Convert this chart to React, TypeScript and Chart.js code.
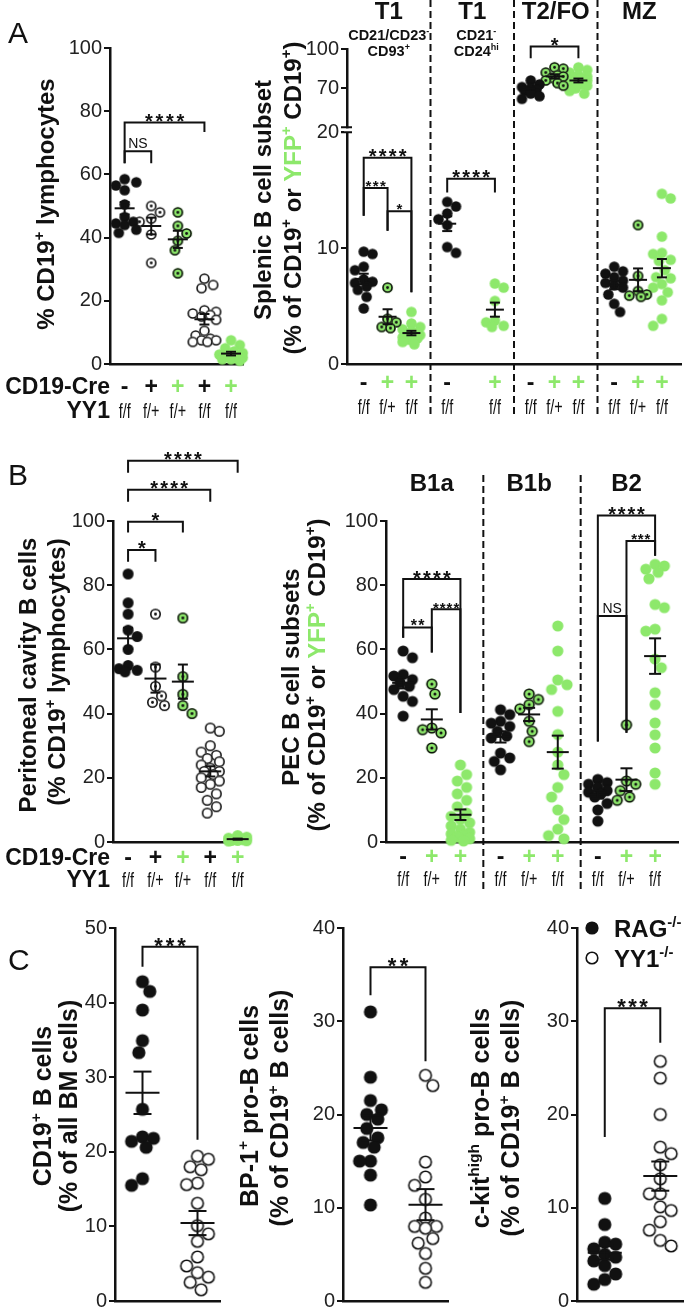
import React, { useEffect, useRef } from 'react';
import { Chart, registerables } from 'chart.js';

Chart.register(...registerables);

const W = 693;
const H = 1315;
const FONT = '"Liberation Sans", Arial, Helvetica, sans-serif';
const GREEN = '#8de86b';
const INK = '#111111';

// ---------------- DATA ----------------
// Panel A (left): % CD19+ lymphocytes
const aCreSigns = ['-', '+', '+', '+', '+'];
const aYY1 = ['f/f', 'f/+', 'f/+', 'f/f', 'f/f'];
const aTicks = [0, 20, 40, 60, 80, 100];
const aCtrl = [58.5, 57.5, 56.5, 55, 50.5, 46.5, 45, 44.5, 44, 42.5, 41.5];
const aHetCre = [50, 48, 46, 45, 41, 32];
const aHetYfp = [48, 43.7, 41.3, 39, 36, 28.7];
const aKoCre = [27, 25, 24, 17, 16.5, 16, 15.5, 15, 14, 10.5, 9, 8, 7.5, 7.5, 7, 7];
const aKoYfp = [7.5, 6, 5, 4, 3.5, 3, 2.5, 2, 2, 1.5, 1.5, 1];

// Panel A (right): splenic B cell subsets (broken axis)
const spleenSubsets = ['T1', 'T1', 'T2/FO', 'MZ'];
const spleenTicks = [0, 10, 20, 70, 100];
const spleenCre = ['-', '+', '+', '-', '+', '-', '+', '+', '-', '+', '+'];
const spleenYY1 = ['f/f', 'f/+', 'f/f', 'f/f', 'f/f', 'f/f', 'f/+', 'f/f', 'f/f', 'f/+', 'f/f'];
const t1Ctrl = [9.7, 9.5, 8.4, 8.1, 7.3, 7.1, 7.0, 6.7, 6.4, 5.8, 4.8];
const t1Het = [6.6, 3.9, 3.6, 3.2, 3.1];
const t1Ko = [4.5, 3.5, 3.2, 3.0, 2.8, 2.7, 2.6, 2.5, 2.4, 2.3, 2.2, 2.1, 1.9, 1.7];
const t1bCtrl = [14.0, 13.6, 13.0, 12.5, 12.0, 10.1, 9.6];
const t1bKo = [6.95, 6.6, 5.45, 3.75, 3.6, 3.3, 3.2];
const foCtrl = [76, 73, 71, 70, 69, 68, 66, 64, 62];
const foHet = [86, 85, 82, 80, 79, 78, 76, 74, 72];
const foKo = [86, 84, 82, 80, 79, 78, 77, 76, 75, 74, 73, 72, 70, 68, 66];
const mzCtrl = [8.4, 8.0, 7.8, 7.5, 7.2, 7.0, 6.8, 6.6, 6.0, 5.2, 4.5];
const mzHet = [12.0, 7.6, 6.3, 6.0, 5.8, 5.9];
const mzKo = [14.7, 14.3, 11.0, 9.6, 9.5, 9.0, 8.9, 8.1, 7.5, 7.4, 6.9, 6.6, 6.2, 5.5, 3.9, 3.3];

// Panel B (left): peritoneal cavity B cells
const pcTicks = [0, 20, 40, 60, 80, 100];
const pcCtrl = [83.5, 74.5, 71, 66, 64, 60, 55, 54, 53.5, 53];
const pcHetCre = [71, 54.5, 48.5, 45.5, 43.5, 42.5];
const pcHetYfp = [69.8, 51.5, 46, 42.5, 40];
const pcKoCre = [35.5, 34.5, 30, 28, 27, 26, 25, 24, 23, 22, 22, 21, 20, 19, 18, 17, 15, 13, 11, 9];
const pcKoYfp = [2, 1.5, 1.2, 1, 0.8, 0.7, 0.5, 0.5, 0.4, 0.3];

// Panel B (right): PEC B cell subsets
const pecSubsets = ['B1a', 'B1b', 'B2'];
const pecCre = ['-', '+', '+', '-', '+', '+', '-', '+', '+'];
const pecYY1 = ['f/f', 'f/+', 'f/f', 'f/f', 'f/+', 'f/f', 'f/f', 'f/+', 'f/f'];
const b1aCtrl = [59.5, 57.4, 52.2, 51.7, 50.6, 49.6, 48.5, 47.5, 45.4, 43.8, 39.2];
const b1aHet = [49.2, 46.1, 35.5, 35, 34, 29.3];
const b1aKo = [24, 21, 19, 17, 15, 13, 11, 9, 8, 7, 6, 5, 4, 3, 2.5, 2, 1.5, 1, 0.5, 0.3];
const b1bCtrl = [41.2, 39.7, 37.6, 37, 36, 34.5, 33, 32.4, 27.7, 26.2, 25.1, 22.5];
const b1bHet = [46.1, 44.4, 42.8, 41.5, 37.6, 34.5, 31.3];
const b1bKo = [67.3, 59.5, 50.5, 49, 47.5, 40.7, 33.5, 28, 24, 21, 17, 14, 10, 7, 4, 2, 1];
const b2Ctrl = [19.5, 18.5, 18, 17, 16, 15.5, 15, 14, 12, 10, 6.5];
const b2Het = [36.5, 19, 18, 16, 14, 13];
const b2Ko = [86.5, 86, 85, 84, 82, 74, 73, 66.3, 65.7, 57, 54.3, 46.5, 42.8, 37.1, 33.4, 29.3, 21.5, 18];

// Panel C: bone marrow
const bmTicks = [0, 10, 20, 30, 40, 50];
const proBTicks = [0, 10, 20, 30, 40];
const bmRag = [42.8, 41.5, 39, 34.9, 33.3, 25.7, 22, 21.8, 21.4, 20.6, 16.4, 15.5];
const bmYy1 = [19.4, 19, 18, 17.6, 15.8, 15.6, 13.1, 10.1, 9, 8, 5.9, 4.7, 3.8, 3.2, 2.5, 1.5];
const bp1Rag = [31, 24, 21.5, 20.5, 20, 19.5, 18.5, 17.5, 17, 16.5, 15, 15, 13.5, 10.3];
const bp1Yy1 = [24.2, 23.1, 14.9, 13.3, 12.4, 10.9, 8.9, 8, 8, 7.8, 6.7, 6.2, 5.1, 3.5, 2];
const kitRag = [11, 8.2, 6.3, 6.1, 5.6, 5, 4.7, 4.3, 3.8, 2.9, 2.3, 1.8];
const kitYy1 = [25.7, 23.9, 20, 16.5, 15.8, 14.6, 13.1, 11.5, 11.5, 10.1, 9.7, 8.5, 7.6, 6.5, 5.9];

// ---------------- helpers ----------------
type Marker = 'black' | 'open' | 'openDot' | 'greenDot' | 'green';
type Seg = { t: string; sup?: boolean; color?: string };
interface GroupSpec { values: number[]; x: number; marker: Marker }
interface BracketSpec { g1: number; g2: number; y: number; l1: number; l2: number; label: string; size: number; pitch: number }
interface Helpers { px: (x: number) => number; py: (v: number) => number; gx: (i: number) => number; marker: (m: Marker) => HTMLCanvasElement }
interface PanelSpec {
  area: [number, number, number, number];
  xMax: number;
  ticks: number[];
  tf?: (v: number) => number;
  groups: GroupSpec[];
  r: number;
  spread: number;
  meanHalf: number;
  capHalf: number;
  brackets: BracketSpec[];
  decorate: (ctx: CanvasRenderingContext2D, h: Helpers) => void;
}

function setFont(ctx: CanvasRenderingContext2D, size: number, bold = false) {
  ctx.font = `${bold ? 'bold ' : ''}${size}px ${FONT}`;
}

function segWidth(ctx: CanvasRenderingContext2D, segs: Seg[], size: number, bold: boolean) {
  let w = 0;
  for (const s of segs) {
    setFont(ctx, s.sup ? size * 0.62 : size, bold);
    w += ctx.measureText(s.t).width;
  }
  return w;
}

function drawRich(ctx: CanvasRenderingContext2D, segs: Seg[], x: number, y: number, size: number, bold: boolean,
  align: 'left' | 'center' | 'right' = 'center', rotate = false) {
  ctx.save();
  ctx.translate(x, y);
  if (rotate) ctx.rotate(-Math.PI / 2);
  const w = segWidth(ctx, segs, size, bold);
  let cx = align === 'center' ? -w / 2 : align === 'right' ? -w : 0;
  const base = rotate ? size * 0.36 : 0;
  ctx.textAlign = 'left';
  ctx.textBaseline = 'alphabetic';
  for (const s of segs) {
    setFont(ctx, s.sup ? size * 0.62 : size, bold);
    ctx.fillStyle = s.color ?? INK;
    ctx.fillText(s.t, cx, base + (s.sup ? -size * 0.4 : 0));
    cx += ctx.measureText(s.t).width;
  }
  ctx.restore();
}

function drawCond(ctx: CanvasRenderingContext2D, text: string, x: number, y: number, size: number, sx = 0.78) {
  ctx.save();
  ctx.translate(x, y);
  ctx.scale(sx, 1);
  setFont(ctx, size);
  ctx.textAlign = 'center';
  ctx.textBaseline = 'alphabetic';
  ctx.fillStyle = INK;
  ctx.fillText(text, 0, 0);
  ctx.restore();
}

function makeMarker(kind: Marker, r: number): HTMLCanvasElement {
  const s = Math.ceil(2 * r + 4);
  const c = document.createElement('canvas');
  c.width = s;
  c.height = s;
  const g = c.getContext('2d')!;
  const m = s / 2;
  g.beginPath();
  g.arc(m, m, r, 0, Math.PI * 2);
  if (kind === 'black') {
    g.fillStyle = INK;
    g.fill();
  } else if (kind === 'green') {
    g.fillStyle = GREEN;
    g.fill();
  } else {
    g.fillStyle = kind === 'greenDot' ? GREEN : '#ffffff';
    g.fill();
    g.lineWidth = 1.6;
    g.strokeStyle = INK;
    g.beginPath();
    g.arc(m, m, r - 0.8, 0, Math.PI * 2);
    g.stroke();
    if (kind !== 'open') {
      g.beginPath();
      g.arc(m, m, Math.max(1.3, r * 0.27), 0, Math.PI * 2);
      g.fillStyle = INK;
      g.fill();
    }
  }
  return c;
}

// deterministic beeswarm offsets (pixels)
function swarmOffsets(ys: number[], pxY: number, r: number, spread: number): number[] {
  const order = ys.map((_, i) => i).sort((a, b) => ys[b] - ys[a]);
  const placed: { x: number; y: number }[] = [];
  const out = new Array(ys.length).fill(0);
  const minD = 2 * r * 0.92;
  const step = r * 0.55;
  const kMax = Math.floor(spread / step);
  let flip = 1;
  for (const i of order) {
    const y = ys[i] * pxY;
    let best = 0;
    let bestScore = -Infinity;
    let done = false;
    for (let k = 0; k <= kMax && !done; k++) {
      const signs = k === 0 ? [1] : [flip, -flip];
      for (const sg of signs) {
        const cand = sg * k * step;
        let dmin = Infinity;
        for (const p of placed) dmin = Math.min(dmin, Math.hypot(p.x - cand, p.y - y));
        if (dmin >= minD) { best = cand; done = true; break; }
        if (dmin > bestScore) { bestScore = dmin; best = cand; }
      }
    }
    if (best !== 0) flip = -flip;
    placed.push({ x: best, y });
    out[i] = best;
  }
  return out;
}

const YW = 40;

function buildConfig(spec: PanelSpec): any {
  const [L, T, R, B] = spec.area;
  const tf = spec.tf ?? ((v: number) => v);
  const tickVals = spec.ticks.map(tf);
  const yMax = tickVals[tickVals.length - 1];
  const pxX = (R - L) / spec.xMax;
  const pxY = (B - T) / yMax;
  const cache: Record<string, HTMLCanvasElement> = {};
  const marker = (m: Marker) => (cache[m] = cache[m] ?? makeMarker(m, spec.r));

  const datasets = spec.groups.map((g) => {
    const ys = g.values.map(tf);
    const offs = swarmOffsets(ys, pxY, spec.r, spec.spread);
    return {
      data: ys.map((y, i) => ({ x: g.x + offs[i] / pxX, y })),
      pointStyle: marker(g.marker),
      pointRadius: spec.r,
      pointHoverRadius: spec.r,
      showLine: false,
      clip: false,
    };
  });

  const decor = {
    id: 'decor',
    afterDatasetsDraw(chart: any) {
      const ctx: CanvasRenderingContext2D = chart.ctx;
      const xs = chart.scales.x;
      const ysc = chart.scales.y;
      const px = (x: number) => xs.getPixelForValue(x);
      const py = (v: number) => ysc.getPixelForValue(tf(v));
      const gx = (i: number) => px(spec.groups[i].x);
      ctx.save();
      ctx.strokeStyle = INK;
      ctx.lineWidth = 2;
      ctx.lineCap = 'butt';
      const line = (x1: number, y1: number, x2: number, y2: number) => {
        ctx.beginPath();
        ctx.moveTo(x1, y1);
        ctx.lineTo(x2, y2);
        ctx.stroke();
      };
      // mean ± SEM
      for (const g of spec.groups) {
        const n = g.values.length;
        const mean = g.values.reduce((a, b) => a + b, 0) / n;
        const sd = Math.sqrt(g.values.reduce((a, b) => a + (b - mean) ** 2, 0) / Math.max(1, n - 1));
        const sem = sd / Math.sqrt(n);
        const x = px(g.x);
        line(x - spec.meanHalf, py(mean), x + spec.meanHalf, py(mean));
        line(x, py(mean - sem), x, py(mean + sem));
        line(x - spec.capHalf, py(mean - sem), x + spec.capHalf, py(mean - sem));
        line(x - spec.capHalf, py(mean + sem), x + spec.capHalf, py(mean + sem));
      }
      // significance brackets
      for (const b of spec.brackets) {
        const x1 = gx(b.g1);
        const x2 = gx(b.g2);
        const y = py(b.y);
        ctx.beginPath();
        ctx.moveTo(x1, py(b.l1));
        ctx.lineTo(x1, y);
        ctx.lineTo(x2, y);
        ctx.lineTo(x2, py(b.l2));
        ctx.stroke();
        const stars = /^\*+$/.test(b.label);
        setFont(ctx, b.size, stars);
        ctx.fillStyle = INK;
        ctx.textAlign = 'center';
        ctx.textBaseline = 'alphabetic';
        const base = stars ? y - 3 + b.size * 0.42 : y - 3;
        const cx = (x1 + x2) / 2;
        if (b.pitch > 0) {
          const chars = b.label.split('');
          const start = cx - (b.pitch * (chars.length - 1)) / 2;
          chars.forEach((c, i) => ctx.fillText(c, start + i * b.pitch, base));
        } else {
          ctx.fillText(b.label, cx, base);
        }
      }
      spec.decorate(ctx, { px, py, gx, marker });
      ctx.restore();
    },
  };

  return {
    type: 'scatter',
    data: { datasets },
    plugins: [decor],
    options: {
      responsive: false,
      animation: false,
      devicePixelRatio: 1,
      events: [],
      layout: { padding: { left: L - YW, top: T, right: W - R, bottom: H - B } },
      plugins: { legend: { display: false }, tooltip: { enabled: false } },
      scales: {
        x: {
          type: 'linear',
          min: 0,
          max: spec.xMax,
          grid: { display: false },
          ticks: { display: false },
          border: { display: true, color: INK, width: 2.5 },
          afterFit: (s: any) => { s.height = 0; },
        },
        y: {
          type: 'linear',
          min: 0,
          max: yMax,
          afterBuildTicks: (s: any) => { s.ticks = tickVals.map((v) => ({ value: v })); },
          ticks: {
            autoSkip: false,
            padding: 2,
            color: '#222',
            font: { family: FONT, size: 20 },
            callback: (v: number) => {
              let k = 0;
              tickVals.forEach((t, i) => { if (Math.abs(t - v) < Math.abs(tickVals[k] - v)) k = i; });
              return String(spec.ticks[k]);
            },
          },
          grid: { display: true, drawOnChartArea: false, drawTicks: true, tickLength: 6, color: INK, lineWidth: 2 },
          border: { display: true, color: INK, width: 2.5 },
          afterFit: (s: any) => { s.width = YW; },
        },
      },
    },
  };
}

const isGreen = (m: Marker) => m === 'green' || m === 'greenDot';

function genotypeRows(ctx: CanvasRenderingContext2D, h: Helpers, groups: GroupSpec[], signs: string[], geno: string[],
  ySign: number, yGeno: number, withLabels: boolean) {
  if (withLabels) {
    drawRich(ctx, [{ t: 'CD19-Cre' }], 110, ySign, 23, true, 'right');
    drawRich(ctx, [{ t: 'YY1' }], 110, yGeno, 23, true, 'right');
  }
  groups.forEach((g, i) => {
    const x = h.gx(i);
    setFont(ctx, 23, true);
    ctx.textAlign = 'center';
    ctx.textBaseline = 'alphabetic';
    ctx.fillStyle = signs[i] === '+' && isGreen(g.marker) ? GREEN : INK;
    ctx.fillText(signs[i], x, ySign);
    drawCond(ctx, geno[i], x, yGeno, 20, 0.72);
  });
}

function letter(ctx: CanvasRenderingContext2D, t: string, x: number, y: number) {
  setFont(ctx, 30);
  ctx.fillStyle = INK;
  ctx.textAlign = 'left';
  ctx.textBaseline = 'alphabetic';
  ctx.fillText(t, x, y);
}

function dashed(ctx: CanvasRenderingContext2D, x: number, y1: number, y2: number) {
  ctx.save();
  ctx.setLineDash([7, 4]);
  ctx.lineWidth = 2;
  ctx.strokeStyle = INK;
  ctx.beginPath();
  ctx.moveTo(x, y1);
  ctx.lineTo(x, y2);
  ctx.stroke();
  ctx.restore();
}

const yfpTitle: Seg[] = [
  { t: '(% of CD19' }, { t: '+', sup: true }, { t: ' or ' },
  { t: 'YFP', color: GREEN }, { t: '+', sup: true, color: GREEN },
  { t: ' CD19' }, { t: '+', sup: true }, { t: ')' },
];

// ---------------- panel specs ----------------
const aLeftGroups: GroupSpec[] = [
  { values: aCtrl, x: 0.55, marker: 'black' },
  { values: aHetCre, x: 1.55, marker: 'openDot' },
  { values: aHetYfp, x: 2.55, marker: 'greenDot' },
  { values: aKoCre, x: 3.55, marker: 'open' },
  { values: aKoYfp, x: 4.55, marker: 'green' },
];
const aLeftSpec: PanelSpec = {
  area: [110, 48, 243, 364],
  xMax: 5,
  ticks: aTicks,
  groups: aLeftGroups,
  r: 5.3,
  spread: 12,
  meanHalf: 10,
  capHalf: 5,
  brackets: [
    { g1: 0, g2: 1, y: 67.3, l1: 63.5, l2: 63.5, label: 'NS', size: 14, pitch: 0 },
    { g1: 0, g2: 3, y: 76.4, l1: 63.5, l2: 73.4, label: '****', size: 20, pitch: 10.5 },
  ],
  decorate: (ctx, h) => {
    letter(ctx, 'A', 8, 43);
    drawRich(ctx, [{ t: '% CD19' }, { t: '+', sup: true }, { t: ' lymphocytes' }], 45, 204, 24, true, 'center', true);
    genotypeRows(ctx, h, aLeftGroups, aCreSigns, aYY1, 394, 418, true);
  },
};

const spleenSec = 3.5;
const sx = (s: number, slot: number) => s * spleenSec + 0.7 + slot;
const spleenGroups: GroupSpec[] = [
  { values: t1Ctrl, x: sx(0, 0), marker: 'black' },
  { values: t1Het, x: sx(0, 1), marker: 'greenDot' },
  { values: t1Ko, x: sx(0, 2), marker: 'green' },
  { values: t1bCtrl, x: sx(1, 0), marker: 'black' },
  { values: t1bKo, x: sx(1, 2), marker: 'green' },
  { values: foCtrl, x: sx(2, 0), marker: 'black' },
  { values: foHet, x: sx(2, 1), marker: 'greenDot' },
  { values: foKo, x: sx(2, 2), marker: 'green' },
  { values: mzCtrl, x: sx(3, 0), marker: 'black' },
  { values: mzHet, x: sx(3, 1), marker: 'greenDot' },
  { values: mzKo, x: sx(3, 2), marker: 'green' },
];
const spleenTf = (v: number) => (v <= 20 ? v : 23.8 + (v - 70) * 0.1133);
const aRightSpec: PanelSpec = {
  area: [347, 49, 681, 364],
  xMax: 4 * spleenSec,
  ticks: spleenTicks,
  tf: spleenTf,
  groups: spleenGroups,
  r: 5.3,
  spread: 11,
  meanHalf: 9,
  capHalf: 5,
  brackets: [
    { g1: 0, g2: 2, y: 17.8, l1: 12.8, l2: 6.2, label: '****', size: 20, pitch: 10 },
    { g1: 0, g2: 1, y: 15.2, l1: 12.8, l2: 11.5, label: '***', size: 15, pitch: 7.3 },
    { g1: 1, g2: 2, y: 13.2, l1: 11.5, l2: 6.2, label: '*', size: 15, pitch: 0 },
    { g1: 3, g2: 4, y: 16.0, l1: 14.8, l2: 14.8, label: '****', size: 20, pitch: 10 },
    { g1: 5, g2: 7, y: 102, l1: 93, l2: 93, label: '*', size: 20, pitch: 0 },
  ],
  decorate: (ctx, h) => {
    spleenSubsets.forEach((name, s) => {
      const cx = h.px(s * spleenSec + spleenSec / 2);
      drawRich(ctx, [{ t: name }], cx, 19, 24, true);
    });
    const c1 = h.px(spleenSec / 2);
    drawRich(ctx, [{ t: 'CD21/CD23' }, { t: '-', sup: true }], c1, 40, 14.5, true);
    drawRich(ctx, [{ t: 'CD93' }, { t: '+', sup: true }], c1, 56, 14.5, true);
    const c2 = h.px(spleenSec * 1.5) + 4;
    drawRich(ctx, [{ t: 'CD21' }, { t: '-', sup: true }], c2, 40, 14.5, true);
    drawRich(ctx, [{ t: 'CD24' }, { t: 'hi', sup: true }], c2, 56, 14.5, true);
    for (let k = 1; k < 4; k++) dashed(ctx, h.px(k * spleenSec), 0, 418);
    drawRich(ctx, [{ t: 'Splenic B cell subset' }], 262, 200, 24, true, 'center', true);
    drawRich(ctx, yfpTitle, 292, 198, 24, true, 'center', true);
    genotypeRows(ctx, h, spleenGroups, spleenCre, spleenYY1, 390, 414, false);
    // axis break marks at 20
    const ax = h.px(0);
    const yb = h.py(20) - 2;
    ctx.fillStyle = '#ffffff';
    ctx.fillRect(ax - 3, yb - 2, 6, 4);
    ctx.strokeStyle = INK;
    ctx.lineWidth = 2;
    ctx.beginPath();
    ctx.moveTo(ax - 6, yb - 3);
    ctx.lineTo(ax + 5, yb - 3);
    ctx.moveTo(ax - 6, yb + 2);
    ctx.lineTo(ax + 5, yb + 2);
    ctx.stroke();
  },
};

const bLeftGroups: GroupSpec[] = [
  { values: pcCtrl, x: 0.55, marker: 'black' },
  { values: pcHetCre, x: 1.55, marker: 'openDot' },
  { values: pcHetYfp, x: 2.55, marker: 'greenDot' },
  { values: pcKoCre, x: 3.55, marker: 'open' },
  { values: pcKoYfp, x: 4.55, marker: 'green' },
];
const bLeftSpec: PanelSpec = {
  area: [113, 521, 250, 842],
  xMax: 5,
  ticks: pcTicks,
  groups: bLeftGroups,
  r: 5.5,
  spread: 12,
  meanHalf: 11,
  capHalf: 5,
  brackets: [
    { g1: 0, g2: 4, y: 118.8, l1: 115, l2: 115, label: '****', size: 20, pitch: 10 },
    { g1: 0, g2: 3, y: 109.7, l1: 106, l2: 106, label: '****', size: 20, pitch: 10 },
    { g1: 0, g2: 2, y: 99.8, l1: 96.4, l2: 96.4, label: '*', size: 20, pitch: 0 },
    { g1: 0, g2: 1, y: 91, l1: 87.3, l2: 87.3, label: '*', size: 20, pitch: 0 },
  ],
  decorate: (ctx, h) => {
    letter(ctx, 'B', 8, 485);
    drawRich(ctx, [{ t: 'Peritoneal cavity B cells' }], 27, 675, 24, true, 'center', true);
    drawRich(ctx, [{ t: '(% CD19' }, { t: '+', sup: true }, { t: ' lymphocytes)' }], 56, 672, 24, true, 'center', true);
    genotypeRows(ctx, h, bLeftGroups, aCreSigns, aYY1, 865, 887, true);
  },
};

const pecSec = 3.4;
const bx = (s: number, slot: number) => s * pecSec + 0.6 + slot;
const pecGroups: GroupSpec[] = [
  { values: b1aCtrl, x: bx(0, 0), marker: 'black' },
  { values: b1aHet, x: bx(0, 1), marker: 'greenDot' },
  { values: b1aKo, x: bx(0, 2), marker: 'green' },
  { values: b1bCtrl, x: bx(1, 0), marker: 'black' },
  { values: b1bHet, x: bx(1, 1), marker: 'greenDot' },
  { values: b1bKo, x: bx(1, 2), marker: 'green' },
  { values: b2Ctrl, x: bx(2, 0), marker: 'black' },
  { values: b2Het, x: bx(2, 1), marker: 'greenDot' },
  { values: b2Ko, x: bx(2, 2), marker: 'green' },
];
const bRightSpec: PanelSpec = {
  area: [386, 521, 678, 842],
  xMax: 3 * pecSec,
  ticks: pcTicks,
  groups: pecGroups,
  r: 5.6,
  spread: 12,
  meanHalf: 11,
  capHalf: 6,
  brackets: [
    { g1: 0, g2: 2, y: 81.9, l1: 63.6, l2: 40.2, label: '****', size: 20, pitch: 10 },
    { g1: 0, g2: 1, y: 66.8, l1: 63.6, l2: 59, label: '**', size: 16, pitch: 7.5 },
    { g1: 1, g2: 2, y: 72.5, l1: 59, l2: 40.2, label: '****', size: 15, pitch: 6.8 },
    { g1: 6, g2: 8, y: 101.7, l1: 31.3, l2: 89.2, label: '****', size: 20, pitch: 9.6 },
    { g1: 7, g2: 8, y: 93.8, l1: 34, l2: 89.2, label: '***', size: 15, pitch: 6.7 },
    { g1: 6, g2: 7, y: 70.4, l1: 31.3, l2: 34, label: 'NS', size: 14, pitch: 0 },
  ],
  decorate: (ctx, h) => {
    pecSubsets.forEach((name, s) => drawRich(ctx, [{ t: name }], h.px(bx(s, 1)), 491, 24, true));
    for (let k = 1; k < 3; k++) dashed(ctx, h.px(k * pecSec), 475, 892);
    drawRich(ctx, [{ t: 'PEC B cell subsets' }], 290, 677, 24, true, 'center', true);
    drawRich(ctx, yfpTitle, 316, 675, 24, true, 'center', true);
    genotypeRows(ctx, h, pecGroups, pecCre, pecYY1, 864, 886, false);
  },
};

const cGroups = (a: number[], b: number[]): GroupSpec[] => [
  { values: a, x: 0.55, marker: 'black' },
  { values: b, x: 1.65, marker: 'open' },
];
const cBase = { xMax: 2.1, r: 6.6, spread: 14, meanHalf: 17, capHalf: 9 };
const cdSub: Seg[] = [{ t: '(% of CD19' }, { t: '+', sup: true }, { t: ' B cells)' }];

const c1Spec: PanelSpec = {
  ...cBase,
  area: [115, 928, 220, 1305],
  ticks: bmTicks,
  groups: cGroups(bmRag, bmYy1),
  brackets: [{ g1: 0, g2: 1, y: 47.5, l1: 44.8, l2: 21.6, label: '***', size: 22, pitch: 11.5 }],
  decorate: (ctx) => {
    letter(ctx, 'C', 8, 970);
    drawRich(ctx, [{ t: 'CD19' }, { t: '+', sup: true }, { t: ' B cells' }], 42, 1106, 25, true, 'center', true);
    drawRich(ctx, [{ t: '(% of all BM cells)' }], 68, 1106, 25, true, 'center', true);
  },
};
const c2Spec: PanelSpec = {
  ...cBase,
  area: [343, 928, 448, 1305],
  ticks: proBTicks,
  groups: cGroups(bp1Rag, bp1Yy1),
  brackets: [{ g1: 0, g2: 1, y: 35.8, l1: 32.8, l2: 25.7, label: '**', size: 22, pitch: 12 }],
  decorate: (ctx) => {
    drawRich(ctx, [{ t: 'BP-1' }, { t: '+', sup: true }, { t: ' pro-B cells' }], 249, 1106, 25, true, 'center', true);
    drawRich(ctx, cdSub, 279, 1108, 25, true, 'center', true);
  },
};
const c3Spec: PanelSpec = {
  ...cBase,
  area: [577, 928, 683, 1305],
  ticks: proBTicks,
  groups: cGroups(kitRag, kitYy1),
  brackets: [{ g1: 0, g2: 1, y: 31.4, l1: 17.6, l2: 27.7, label: '***', size: 22, pitch: 11 }],
  decorate: (ctx, h) => {
    drawRich(ctx, [{ t: 'c-kit' }, { t: 'high', sup: true }, { t: ' pro-B cells' }], 480, 1118, 25, true, 'center', true);
    drawRich(ctx, cdSub, 510, 1118, 25, true, 'center', true);
    const mb = h.marker('black');
    const mo = h.marker('open');
    const y1 = h.py(40);
    ctx.drawImage(mb, 592 - mb.width / 2, y1 - mb.height / 2);
    ctx.drawImage(mo, 592 - mo.width / 2, y1 + 30 - mo.height / 2);
    drawRich(ctx, [{ t: 'RAG' }, { t: '-/-', sup: true }], 614, y1 + 9, 24, true, 'left');
    drawRich(ctx, [{ t: 'YY1' }, { t: '-/-', sup: true }], 614, y1 + 39, 24, true, 'left');
  },
};

const PANELS: PanelSpec[] = [aLeftSpec, aRightSpec, bLeftSpec, bRightSpec, c1Spec, c2Spec, c3Spec];

function Panel({ spec }: { spec: PanelSpec }) {
  const ref = useRef<HTMLCanvasElement>(null);
  useEffect(() => {
    const chart = new Chart(ref.current!, buildConfig(spec));
    return () => chart.destroy();
  }, [spec]);
  return (
    <canvas
      ref={ref}
      width={W}
      height={H}
      style={{ position: 'absolute', left: 0, top: 0, width: W, height: H }}
    />
  );
}

export default function App() {
  return (
    <div style={{ position: 'absolute', left: 0, top: 0, width: W, height: H, background: '#ffffff' }}>
      {PANELS.map((p, i) => (
        <Panel key={i} spec={p} />
      ))}
    </div>
  );
}
